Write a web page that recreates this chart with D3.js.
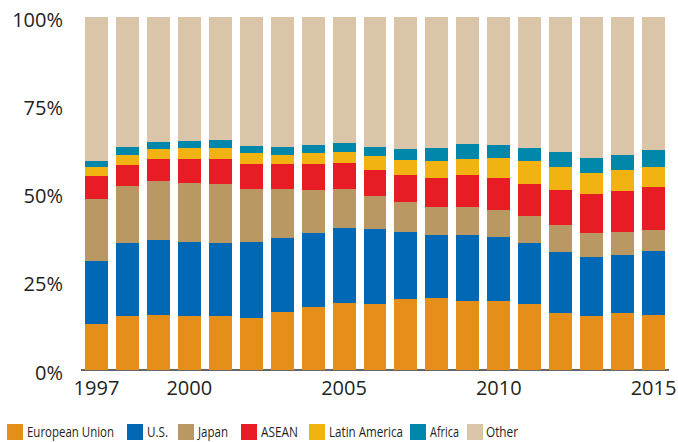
<!DOCTYPE html>
<html>
<head>
<meta charset="utf-8">
<script src="https://cdn.jsdelivr.net/npm/d3@7"></script>
<style>
  body { margin: 0; background: #fff; }
  text { font-family: "Open Sans", sans-serif; fill: #231f20; }
</style>
</head>
<body>
<div id="chart"></div>
<script>
const width = 678
const height = 442

// data (shares in %)
const years = [1997, 1998, 1999, 2000, 2001, 2002, 2003, 2004, 2005, 2006, 2007, 2008, 2009, 2010, 2011, 2012, 2013, 2014, 2015]
const euShare    = [13.0, 15.3, 15.6, 15.3, 15.3, 14.7, 16.4, 17.6, 19.0, 18.7, 20.1, 20.4, 19.5, 19.5, 18.7, 16.1, 15.3, 15.9, 15.6]
const usShare    = [17.9, 20.7, 21.2, 21.0, 20.7, 21.6, 21.0, 21.2, 21.2, 21.2, 19.0, 17.8, 18.7, 18.2, 17.3, 17.3, 16.7, 16.7, 18.1]
const japanShare = [17.5, 16.1, 16.7, 16.7, 16.7, 15.0, 13.9, 12.2, 11.1, 9.4, 8.5, 8.0, 8.0, 7.6, 7.6, 7.7, 6.8, 6.5, 6.0]
const aseanShare = [6.6, 6.0, 6.3, 6.8, 7.1, 7.1, 7.1, 7.4, 7.3, 7.4, 7.6, 8.2, 9.0, 9.1, 9.1, 9.9, 11.1, 11.6, 12.1]
const latamShare = [2.5, 2.8, 2.8, 3.1, 3.1, 3.1, 2.5, 3.1, 3.2, 3.9, 4.3, 4.8, 4.6, 5.7, 6.5, 6.5, 5.9, 6.0, 5.7]
const africaShare = [1.7, 2.3, 2.0, 2.0, 2.3, 2.0, 2.3, 2.2, 2.5, 2.6, 3.1, 3.7, 4.2, 3.6, 3.7, 4.3, 4.3, 4.2, 4.8]
const otherShare = [40.8, 36.8, 35.4, 35.1, 34.8, 36.5, 36.8, 36.3, 35.7, 36.8, 37.4, 37.1, 36.0, 36.3, 37.1, 38.2, 39.9, 39.1, 37.7]

const seriesNames = ["European Union", "U.S.", "Japan", "ASEAN", "Latin America", "Africa", "Other"]
const seriesKeys = ["eu", "us", "japan", "asean", "latam", "africa", "other"]
const colors = ["#e58e1a", "#0068b4", "#b99863", "#e71c24", "#f0b312", "#0087aa", "#dbc5a8"]
const xTickYears = [1997, 2000, 2005, 2010, 2015]
const yTicks = [0, 25, 50, 75, 100]

const table = years.map((year, i) => ({
    year: year,
    eu: euShare[i],
    us: usShare[i],
    japan: japanShare[i],
    asean: aseanShare[i],
    latam: latamShare[i],
    africa: africaShare[i],
    other: otherShare[i],
}))

const svg = d3.select("div#chart").append("svg").attr("width", width).attr("height", height)

const x = d3.scaleBand().domain(years).range([81, 669]).paddingInner(0.257).paddingOuter(0.128)
const y = d3.scaleLinear().domain([0, 100]).range([369.5, 17])

const stacked = d3.stack().keys(seriesKeys)
    .offset(d3.stackOffsetExpand)(table)

// baseline
svg.append("line")
    .attr("x1", 81).attr("x2", 669)
    .attr("y1", 370).attr("y2", 370)
    .attr("stroke", "#333").attr("stroke-width", 1.5)

const layers = svg.append("g").attr("class", "bars")
    .selectAll("g").data(stacked).join("g")
    .attr("fill", (d, i) => colors[i])

layers.selectAll("rect").data(d => d).join("rect")
    .attr("x", d => x(d.data.year))
    .attr("width", x.bandwidth())
    .attr("y", d => y(d[1] * 100))
    .attr("height", d => y(d[0] * 100) - y(d[1] * 100))
    .attr("shape-rendering", "crispEdges")

// y axis
const yAxis = d3.axisLeft(y).tickValues(yTicks).tickFormat(d => d + "%").tickSize(0).tickPadding(0)
const yAxisGroup = svg.append("g").attr("transform", "translate(63, 0)").call(yAxis)
yAxisGroup.select(".domain").remove()
yAxisGroup.selectAll("text")
    .attr("dy", 9.5)
    .attr("font-size", 20)
    .attr("font-family", "'Open Sans', sans-serif")
    .attr("fill", "#231f20")

// x axis
const xAxis = d3.axisBottom(x).tickValues(xTickYears).tickSize(0).tickPadding(0)
const xAxisGroup = svg.append("g").attr("transform", "translate(0, 370)").call(xAxis)
xAxisGroup.select(".domain").remove()
xAxisGroup.selectAll("text")
    .attr("y", 0)
    .attr("dy", 25)
    .attr("font-size", 20)
    .attr("font-family", "'Open Sans', sans-serif")
    .attr("fill", "#231f20")

// legend
const legendX = [7, 127, 178, 241, 309, 410, 467]
const legendTextW = [87, 21, 30, 37, 74, 29, 32]
const legend = svg.append("g").attr("class", "legend")
seriesNames.forEach((name, i) => {
    const g = legend.append("g").attr("transform", `translate(${legendX[i]}, 424)`)
    g.append("rect").attr("width", 16).attr("height", 16).attr("fill", colors[i])
    g.append("text")
        .attr("x", i === 6 ? 19 : 20)
        .attr("y", 13)
        .attr("font-size", 15)
        .attr("textLength", legendTextW[i])
        .attr("lengthAdjust", "spacingAndGlyphs")
        .text(name)
})
</script>
</body>
</html>
